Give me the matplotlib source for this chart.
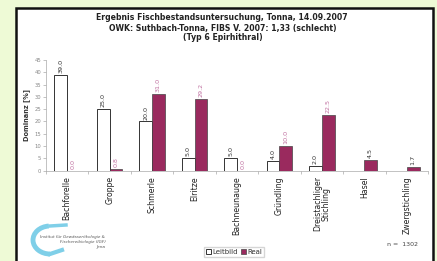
import matplotlib
matplotlib.use("Agg")
import matplotlib.pyplot as plt
import numpy as np
from matplotlib.patches import Rectangle, Arc

categories = ["Bachforelle", "Groppe", "Schmerle", "Elritze", "Bachneunauge",
              "Gründling", "Dreistachliger\nStichling", "Hasel", "Zwergstichling"]
leitbild = [39.0, 25.0, 20.0, 5.0, 5.0, 4.0, 2.0, np.nan, np.nan]
real = [0.0, 0.8, 31.0, 29.2, 0.0, 10.0, 22.5, 4.5, 1.7]
yticks = [0, 5, 10, 15, 20, 25, 30, 35, 40, 45]

W, H = 437, 261
fig = plt.figure(figsize=(W/100, H/100), dpi=100)
fig.patch.set_facecolor("#eefad6")

# white panel with black border
panel = Rectangle((16/W, -0.05), (433-16)/W, (H-8)/H + 0.05, transform=fig.transFigure,
                  facecolor="white", edgecolor="#111111", lw=1.8, zorder=-5)
fig.patches.append(panel)

ax = fig.add_axes([46/W, (H-170.7)/H, (428-46)/W, (170.7-60)/H])
ax.set_facecolor("none")
x = np.arange(len(categories))
bw = 0.3
real_col = "#9a2a5e"
ax.bar(x - bw/2, leitbild, bw, color="white", edgecolor="#333333", lw=0.7, label="Leitbild", zorder=2)
ax.bar(x + bw/2, real, bw, color=real_col, edgecolor="#444444", lw=0.5, label="Real", zorder=2)

for xi, v in zip(x, leitbild):
    if not np.isnan(v):
        ax.text(xi - bw/2, v + 0.8, f"{v:.1f}", rotation=90, ha="center", va="bottom",
                fontsize=4.6, color="#333333")
for xi, v, lb in zip(x, real, leitbild):
    col = "#c070a0" if not np.isnan(lb) else "#333333"
    ax.text(xi + bw/2, v + 0.8, f"{v:.1f}", rotation=90, ha="center", va="bottom",
            fontsize=4.6, color=col)

ax.set_xlim(-0.5, len(categories) - 0.5)
ax.set_ylim(0, 45)
ax.set_yticks(yticks)
ax.set_yticklabels([str(t) for t in yticks], fontsize=3.8, color="#888888")
ax.set_xticks(x)
ax.set_xticklabels(categories, rotation=90, fontsize=5.6, color="#222222", va="top", linespacing=1.0)
ax.tick_params(axis="x", length=0, pad=4)
ax.set_xticks(np.arange(-0.5, len(categories), 1), minor=True)
ax.tick_params(axis="x", which="minor", length=2, color="#aaaaaa", width=0.5)
ax.tick_params(axis="y", length=2, color="#aaaaaa", width=0.5, pad=1.5)
for s in ["top", "right"]:
    ax.spines[s].set_visible(False)
ax.spines["left"].set_color("#aaaaaa")
ax.spines["bottom"].set_color("#aaaaaa")
ax.spines["left"].set_linewidth(0.5)
ax.spines["bottom"].set_linewidth(0.5)
ax.set_ylabel("Dominanz [%]", fontsize=4.8, fontweight="bold", color="#333333", labelpad=3)

fig.text(222/W, 1 - 18/H, "Ergebnis Fischbestandsuntersuchung, Tonna, 14.09.2007",
         ha="center", va="center", fontsize=5.6, fontweight="bold", color="#222222")
fig.text(223/W, 1 - 28/H, "OWK: Suthbach-Tonna, FIBS V. 2007: 1,33 (schlecht)",
         ha="center", va="center", fontsize=5.6, fontweight="bold", color="#222222")
fig.text(223/W, 1 - 38/H, "(Typ 6 Epirhithral)",
         ha="center", va="center", fontsize=5.6, fontweight="bold", color="#222222")

leg = fig.legend(loc="center", bbox_to_anchor=(234/W, 1 - 252/H), ncol=2, fontsize=5,
                 frameon=True, handlelength=0.7, handleheight=0.7, handletextpad=0.2,
                 columnspacing=0.4, borderpad=0.3, fancybox=False, edgecolor="#cccccc")
for t in leg.get_texts():
    t.set_color("#333333")

fig.text(418/W, 1 - 245/H, "n =  1302", ha="right", va="center", fontsize=4.5, color="#444444")

# logo
lax = fig.add_axes([22/W, 1 - 258/H, 100/W, 36/H])
lax.set_xlim(0, 100); lax.set_ylim(0, 36)
lax.axis("off")
lax.add_patch(Arc((28, 18), 34, 28, theta1=95, theta2=270, lw=3.5, color="#7fcfe8"))
lax.plot([28, 40], [4, 8], color="#7fcfe8", lw=3)
lax.plot([28, 44], [32, 33], color="#7fcfe8", lw=2.5)
lax.text(18, 21, "Institut für Gewässerökologie &", fontsize=3, style="italic", color="#555555", va="center")
lax.text(84, 16, "Fischereibiologie (IGF)", fontsize=3, style="italic", color="#555555", va="center", ha="right")
lax.text(84, 11, "Jena", fontsize=3, style="italic", color="#555555", va="center", ha="right")

fig.savefig("out.png", dpi=100, facecolor=fig.get_facecolor())
